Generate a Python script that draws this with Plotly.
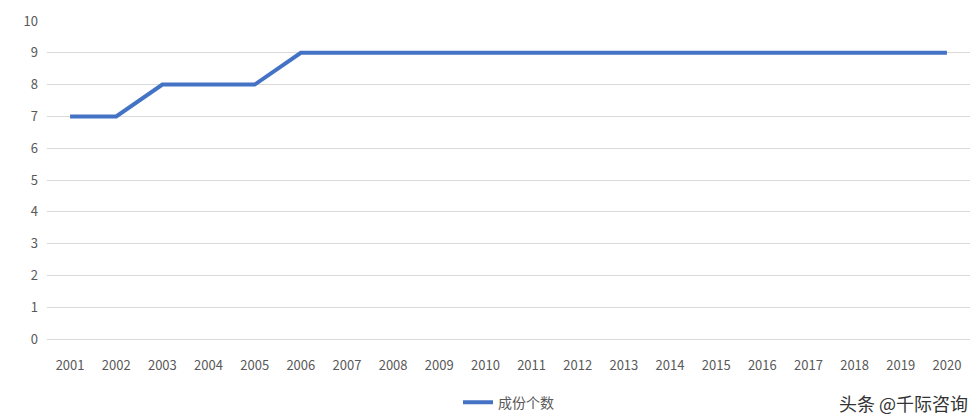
import plotly.graph_objects as go

years = [str(y) for y in range(2001, 2021)]
counts = [7, 7, 8, 8, 8, 9, 9, 9, 9, 9, 9, 9, 9, 9, 9, 9, 9, 9, 9, 9]
series_name = "成份个数"

fig = go.Figure()
fig.add_trace(go.Scatter(
    x=years, y=counts, mode="lines", name=series_name,
    line=dict(color="#4472C4", width=4),
))

fig.update_layout(
    width=980, height=418,
    margin=dict(l=39, r=18, t=13, b=87, autoexpand=False),
    paper_bgcolor="white", plot_bgcolor="white",
    font=dict(family="Noto Sans CJK SC, Noto Sans, sans-serif", size=13, color="#595959"),
    showlegend=True,
    legend=dict(orientation="h", x=0.5, xanchor="center", y=-0.2, yanchor="middle",
                font=dict(size=14)),
    xaxis=dict(type="category", showgrid=False, showline=True, linecolor="#d9d9d9",
               ticks="", range=[-0.5, 19.5], ticklabelstandoff=14),
    yaxis=dict(range=[0, 10], dtick=1, showgrid=True, gridcolor="#d9d9d9",
               zeroline=False, ticks="", ticklabelstandoff=8),
)

fig.add_annotation(
    text="头条 @千际咨询", xref="paper", yref="paper", x=1.0, y=-0.2,
    xanchor="right", yanchor="middle", showarrow=False,
    font=dict(size=18, color="#333333"),
)

fig.write_html("out.html")
